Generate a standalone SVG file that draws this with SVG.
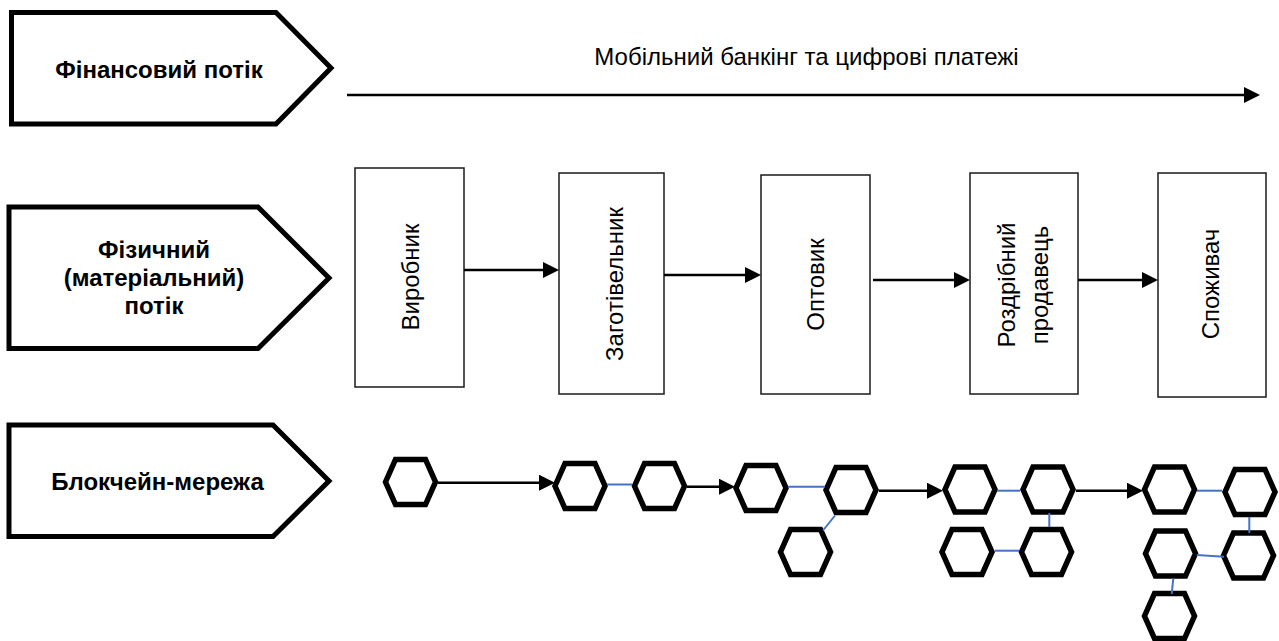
<svg xmlns="http://www.w3.org/2000/svg" width="1279" height="641" viewBox="0 0 1279 641">
<style>
.lbl{fill:#fff;stroke:#000;stroke-width:5;stroke-linejoin:miter}
.lt{font-family:"Liberation Sans",Arial,sans-serif;font-weight:bold;font-size:24px;text-anchor:middle;fill:#000}
.box{fill:#fff;stroke:#1a1a1a;stroke-width:1.5}
.bt{font-family:"Liberation Sans",Arial,sans-serif;font-size:24px;text-anchor:middle;fill:#000}
.hex{fill:#fff;stroke:#000;stroke-width:5.5;stroke-linejoin:miter}
.arr{stroke:#000;stroke-width:2.5;fill:none;marker-end:url(#ah)}
.bl{stroke:#4472C4;stroke-width:2;fill:none}
</style>
<defs>
<marker id="ah" markerUnits="userSpaceOnUse" markerWidth="18" markerHeight="18" refX="5" refY="8" orient="auto">
<path d="M0,0 L16,8 L0,16 Z" fill="#000"/>
</marker>
<path id="hx" d="M-25,0 L-15,-22.5 L15,-22.5 L25,0 L15,22.5 L-15,22.5 Z"/>
</defs>

<g id="label-finance">
<path class="lbl" d="M11.5,12.5 L276,12.5 L331,68 L276,124 L11.5,124 Z"/>
<text class="lt" x="159" y="78">Фінансовий потік</text>
</g>
<g id="label-physical">
<path class="lbl" d="M9,207 L258,207 L329,278 L258,348.5 L9,348.5 Z"/>
<text class="lt" x="154" y="258">Фізичний</text>
<text class="lt" x="154" y="286">(матеріальний)</text>
<text class="lt" x="154" y="314">потік</text>
</g>
<g id="label-blockchain">
<path class="lbl" d="M9,425 L273,425 L329,481 L273,536.5 L9,536.5 Z"/>
<text class="lt" x="157.5" y="490">Блокчейн-мережа</text>
</g>

<g id="finance-caption">
<text class="bt" x="806.5" y="65">Мобільний банкінг та цифрові платежі</text>
</g>

<g id="node-vyrobnyk">
<rect class="box" x="355" y="168" width="109" height="219"/>
<text class="bt" transform="translate(419,277) rotate(-90)">Виробник</text>
</g>
<g id="node-zagotivelnyk">
<rect class="box" x="559" y="173" width="105" height="221"/>
<text class="bt" transform="translate(623,284) rotate(-90)">Заготівельник</text>
</g>
<g id="node-optovyk">
<rect class="box" x="761" y="175" width="109" height="219"/>
<text class="bt" transform="translate(824,284.5) rotate(-90)">Оптовик</text>
</g>
<g id="node-rozdribnyi">
<rect class="box" x="970" y="173" width="108" height="221"/>
<text class="bt" transform="translate(1015,285) rotate(-90)">Роздрібний</text>
<text class="bt" transform="translate(1048,285) rotate(-90)">продавець</text>
</g>
<g id="node-spozhyvach">
<rect class="box" x="1158" y="173" width="108" height="224"/>
<text class="bt" transform="translate(1219,284) rotate(-90)">Споживач</text>
</g>

<g id="hexagons">
<use id="h1" href="#hx" class="hex" x="410.5" y="482"/>
<use id="h2" href="#hx" class="hex" x="580" y="486"/>
<use id="h3" href="#hx" class="hex" x="659.5" y="486"/>
<use id="h4" href="#hx" class="hex" x="761" y="488"/>
<use id="h5" href="#hx" class="hex" x="805.5" y="552"/>
<use id="h6" href="#hx" class="hex" x="851" y="490"/>
<use id="h7" href="#hx" class="hex" x="970" y="489.5"/>
<use id="h8" href="#hx" class="hex" x="1048" y="489.5"/>
<use id="h9" href="#hx" class="hex" x="967" y="552"/>
<use id="h10" href="#hx" class="hex" x="1046.5" y="552"/>
<use id="h11" href="#hx" class="hex" x="1169.5" y="489.5"/>
<use id="h12" href="#hx" class="hex" x="1250" y="492"/>
<use id="h13" href="#hx" class="hex" x="1170.5" y="553.5"/>
<use id="h14" href="#hx" class="hex" x="1248.5" y="555.5"/>
<use id="h15" href="#hx" class="hex" x="1169.5" y="616"/>
</g>

<g id="connectors">
<line class="arr" x1="347" y1="95" x2="1249" y2="95"/>
<line class="arr" x1="464" y1="270" x2="548" y2="270"/>
<line class="arr" x1="664" y1="275" x2="750" y2="275"/>
<line class="arr" x1="873" y1="280" x2="959" y2="280"/>
<line class="arr" x1="1078" y1="280" x2="1147" y2="280"/>
<line class="arr" x1="438" y1="482.7" x2="544" y2="482.7"/>
<line class="arr" x1="687" y1="486.7" x2="724" y2="486.7"/>
<line class="arr" x1="879" y1="490.7" x2="932" y2="490.7"/>
<line class="arr" x1="1076" y1="490.7" x2="1132" y2="490.7"/>
<line class="bl" x1="607" y1="484.5" x2="632" y2="484.5"/>
<line class="bl" x1="788" y1="486.7" x2="825" y2="486.7"/>
<line class="bl" x1="835" y1="515.5" x2="823" y2="530.5"/>
<line class="bl" x1="997" y1="490.7" x2="1020" y2="490.7"/>
<line class="bl" x1="1049.3" y1="513" x2="1049.3" y2="527"/>
<line class="bl" x1="995" y1="550.7" x2="1019" y2="550.7"/>
<line class="bl" x1="1197" y1="490.7" x2="1222" y2="490.7"/>
<line class="bl" x1="1249.3" y1="517" x2="1249.3" y2="533"/>
<line class="bl" x1="1196.7" y1="555" x2="1224" y2="556.7"/>
<line class="bl" x1="1173.3" y1="578.5" x2="1171.7" y2="594"/>
</g>
</svg>
